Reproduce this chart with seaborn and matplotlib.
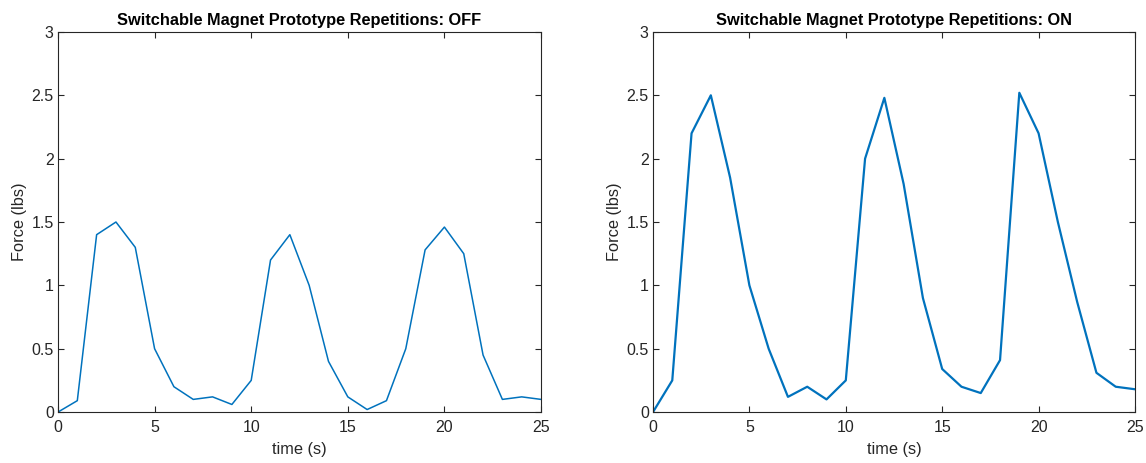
import matplotlib
matplotlib.use("Agg")
import matplotlib.pyplot as plt
import seaborn as sns
import numpy as np

time_s = list(range(26))
force_off = [0, 0.09, 1.4, 1.5, 1.3, 0.5, 0.2, 0.1, 0.12, 0.06, 0.25, 1.2, 1.4, 1.0,
             0.4, 0.12, 0.02, 0.09, 0.5, 1.28, 1.46, 1.25, 0.45, 0.1, 0.12, 0.1]
force_on = [0, 0.25, 2.2, 2.5, 1.85, 1.0, 0.5, 0.12, 0.2, 0.1, 0.25, 2.0, 2.48, 1.8,
            0.9, 0.34, 0.2, 0.15, 0.41, 2.52, 2.2, 1.5, 0.87, 0.31, 0.2, 0.18]
titles = ["Switchable Magnet Prototype Repetitions: OFF",
          "Switchable Magnet Prototype Repetitions: ON"]
x_ticks = [0, 5, 10, 15, 20, 25]
y_ticks = [0, 0.5, 1, 1.5, 2, 2.5, 3]
y_tick_labels = ["0", "0.5", "1", "1.5", "2", "2.5", "3"]

sns.set_theme(style="ticks")
plt.rcParams['font.family'] = ['Liberation Sans', 'DejaVu Sans']

fig = plt.figure(figsize=(11.46, 4.63), dpi=100)
ax1 = fig.add_axes([0.0506, 0.110, 0.4215, 0.821])
ax2 = fig.add_axes([0.5698, 0.110, 0.4206, 0.821])

for ax, data, title, lw in [(ax1, force_off, titles[0], 1.1), (ax2, force_on, titles[1], 1.6)]:
    sns.lineplot(x=time_s, y=data, ax=ax, color="#0072BD", linewidth=lw)
    ax.set_xlim(0, 25)
    ax.set_ylim(0, 3)
    ax.set_xticks(x_ticks)
    ax.set_xticklabels([str(t) for t in x_ticks])
    ax.set_yticks(y_ticks)
    ax.set_yticklabels(y_tick_labels)
    ax.tick_params(direction="in", top=True, right=True, length=4, width=0.8,
                   labelsize=11.5, colors="#262626")
    ax.tick_params(axis="x", pad=6)
    ax.tick_params(axis="y", pad=3)
    for sp in ax.spines.values():
        sp.set_visible(True)
        sp.set_color("#262626")
        sp.set_linewidth(0.8)
    ax.set_xlabel("time (s)", fontsize=11.8, color="#262626", labelpad=5)
    ax.set_ylabel("Force (lbs)", fontsize=11.8, color="#262626", labelpad=3)
    ax.set_title(title, fontsize=11.8, fontweight="bold", color="#000000", pad=5)

fig.savefig("out.png", dpi=100)
